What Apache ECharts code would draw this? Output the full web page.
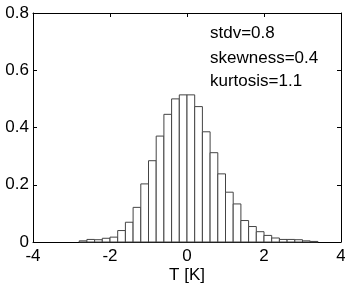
<!DOCTYPE html>
<html>
<head>
<meta charset="utf-8">
<script src="https://cdn.jsdelivr.net/npm/echarts@6/dist/echarts.min.js"></script>
<style>html,body{margin:0;padding:0;background:#fff;}#c{width:345px;height:287px;}</style>
</head>
<body>
<div id="c"></div>
<script>
// Histogram bins: left edges (bin width 0.2) and densities
var binWidth = 0.2;
var binStarts = [-2.8, -2.6, -2.4, -2.2, -2.0, -1.8, -1.6, -1.4, -1.2, -1.0, -0.8, -0.6, -0.4, -0.2,
                 0.0, 0.2, 0.4, 0.6, 0.8, 1.0, 1.2, 1.4, 1.6, 1.8, 2.0, 2.2, 2.4, 2.6, 2.8, 3.0, 3.2];
var density = [0.004, 0.009, 0.008, 0.013, 0.017, 0.040, 0.069, 0.121, 0.203, 0.284, 0.370, 0.446, 0.500, 0.514,
               0.514, 0.473, 0.385, 0.312, 0.238, 0.174, 0.133, 0.075, 0.054, 0.036, 0.023, 0.014, 0.009, 0.009, 0.008, 0.004, 0.002];
var xTicks = [-4, -2, 0, 2, 4];
var yTicks = [0, 0.2, 0.4, 0.6, 0.8];
var statsText = ['stdv=0.8', 'skewness=0.4', 'kurtosis=1.1'];
var xLabel = 'T [K]';

var FONT = 'Liberation Sans, Arial, sans-serif';
var data = binStarts.map(function (s, i) { return [s, s + binWidth, density[i]]; });

var chart = echarts.init(document.getElementById('c'), null, {renderer: 'canvas'});
var axisCommon = {
  axisLine: {show: true, onZero: false, lineStyle: {color: '#000', width: 1}},
  axisTick: {show: true, inside: true, length: 4, lineStyle: {color: '#000'}},
  splitLine: {show: false}
};
chart.setOption({
  animation: false,
  grid: {left: 33, right: 4, top: 13, bottom: 45, containLabel: false, outerBoundsMode: 'none'},
  xAxis: [
    Object.assign({type: 'value', min: -4, max: 4, interval: 2, position: 'bottom',
      name: xLabel, nameLocation: 'middle', nameGap: 25, nameMoveOverlap: false,
      nameTextStyle: {fontFamily: FONT, fontSize: 17, color: '#000'},
      axisLabel: {fontFamily: FONT, fontSize: 17, color: '#000', margin: 6,
        formatter: function (v) { return xTicks.indexOf(v) >= 0 ? String(v) : ''; }}}, axisCommon),
    Object.assign({type: 'value', min: -4, max: 4, interval: 2, position: 'top',
      axisLabel: {show: false}}, axisCommon)
  ],
  yAxis: [
    Object.assign({type: 'value', min: 0, max: 0.8, interval: 0.2, position: 'left',
      axisLabel: {fontFamily: FONT, fontSize: 17, color: '#000', margin: 4,
        formatter: function (v) { var r = Math.round(v * 10) / 10; return yTicks.indexOf(r) >= 0 ? String(r) : ''; }}}, axisCommon),
    Object.assign({type: 'value', min: 0, max: 0.8, interval: 0.2, position: 'right',
      axisLabel: {show: false}}, axisCommon)
  ],
  series: [{
    type: 'custom',
    xAxisIndex: 0, yAxisIndex: 0,
    data: data,
    encode: {x: [0, 1], y: 2},
    renderItem: function (params, api) {
      var p0 = api.coord([api.value(0), 0]);
      var p1 = api.coord([api.value(1), api.value(2)]);
      return {
        type: 'rect',
        shape: {x: p0[0], y: p1[1], width: p1[0] - p0[0], height: p0[1] - p1[1]},
        style: {fill: '#fff', stroke: '#444', lineWidth: 1}
      };
    }
  }],
  graphic: statsText.map(function (t, i) {
    return {type: 'text', left: 210, top: [25, 50, 73][i], z: 10,
      style: {text: t, fontFamily: FONT, fontSize: 17, fill: '#000'}};
  })
});
</script>
</body>
</html>
